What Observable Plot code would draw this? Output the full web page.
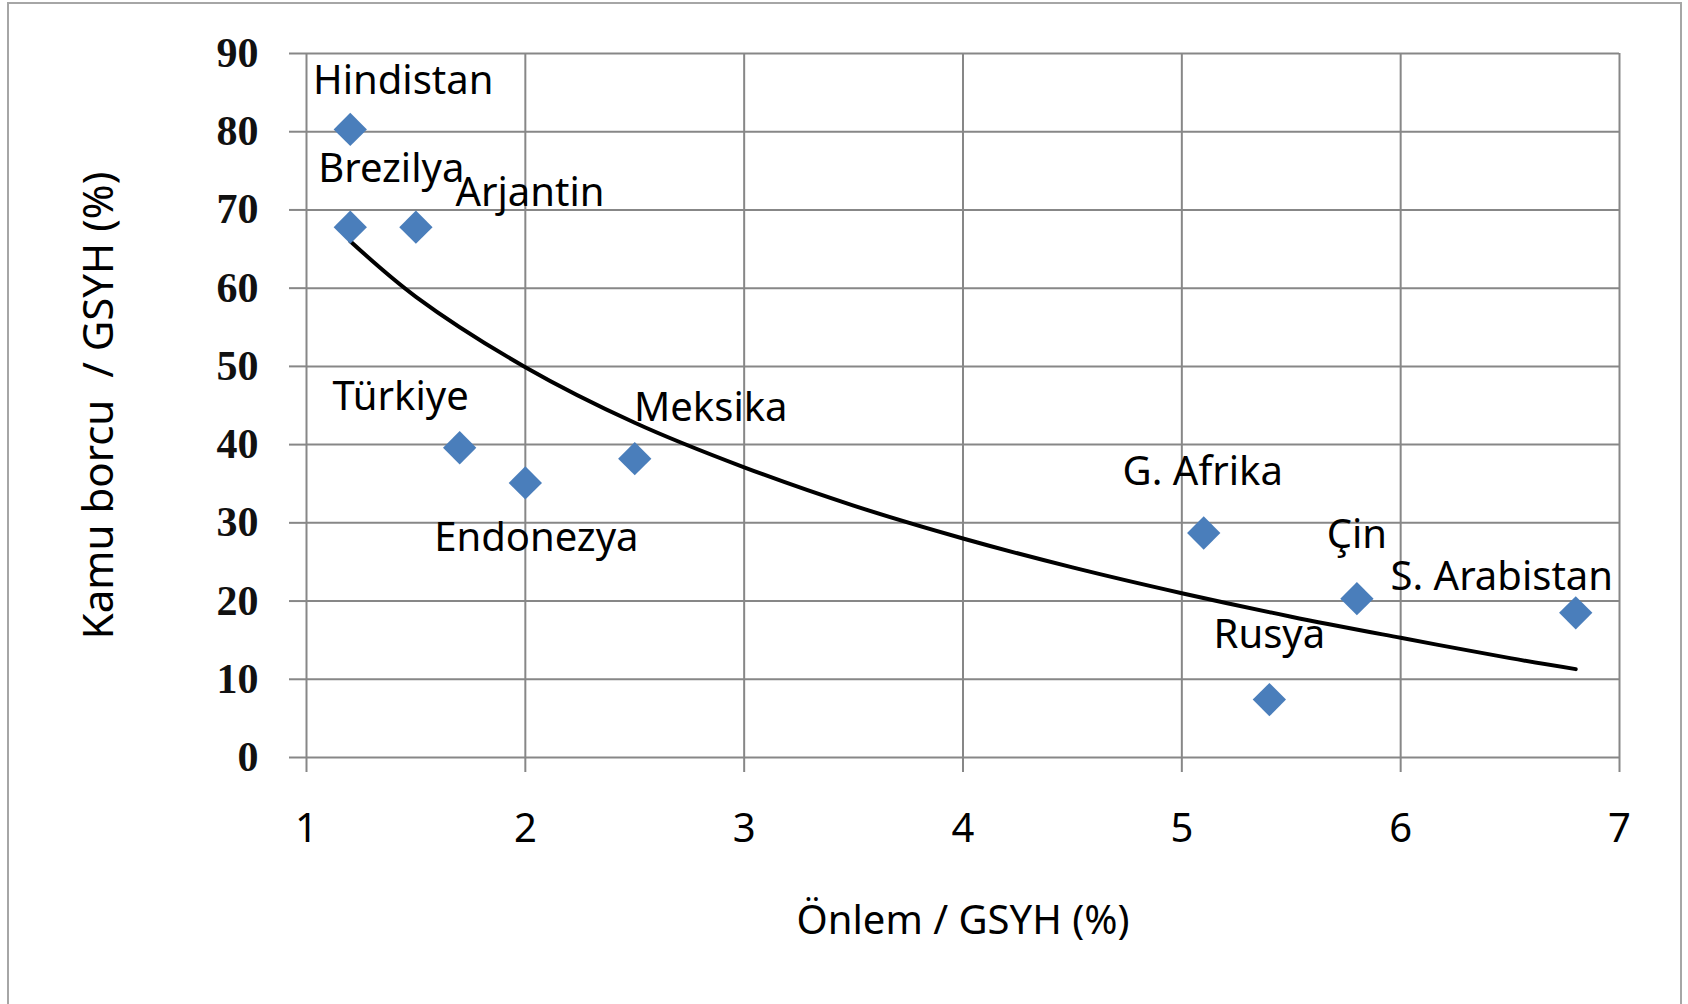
<!DOCTYPE html>
<html>
<head>
<meta charset="utf-8">
<script src="https://cdn.jsdelivr.net/npm/d3@7"></script>
<script src="https://cdn.jsdelivr.net/npm/@observablehq/plot@0.6"></script>
<style>
  html, body { margin: 0; padding: 0; background: #ffffff; }
  #wrap { position: relative; width: 1688px; height: 1004px; overflow: hidden; }
  #border { position: absolute; left: 7px; top: 2px; width: 1675px; height: 1010px; border: 2px solid #a6a6a6; box-sizing: border-box; pointer-events: none; }
</style>
</head>
<body>
<div id="wrap"><div id="border"></div></div>
<script>
// ---- data ----
const countries = ["Hindistan", "Brezilya", "Arjantin", "Türkiye", "Endonezya", "Meksika", "G. Afrika", "Rusya", "Çin", "S. Arabistan"];
const onlem = [1.2, 1.2, 1.5, 1.7, 2.0, 2.5, 5.1, 5.4, 5.8, 6.8];          // Önlem / GSYH (%)
const borc  = [80.3, 67.8, 67.8, 39.6, 35.1, 38.2, 28.7, 7.4, 20.3, 18.5]; // Kamu borcu / GSYH (%)

// trend line
const trendX = [1.2, 1.5, 2.0, 2.5, 3.0, 3.5, 4.0, 4.5, 5.0, 5.5, 6.0, 6.5, 6.8];
const trendY = [66.0, 58.9, 49.9, 42.8, 37.1, 32.2, 28.0, 24.3, 21.0, 18.0, 15.3, 12.7, 11.3];

const xTicks = [1, 2, 3, 4, 5, 6, 7];
const yTicks = [0, 10, 20, 30, 40, 50, 60, 70, 80, 90];

const xTitle = "Önlem / GSYH (%)";
const yTitle = "Kamu borcu  / GSYH (%)";

// label placement relative to each point (pixels), kept apart from the data
const labelOffset = {
  "Hindistan": [53, -48],
  "Brezilya": [41, -58],
  "Arjantin": [114, -34],
  "Türkiye": [-59, -51],
  "Endonezya": [11, 55],
  "Meksika": [76, -51],
  "G. Afrika": [-1, -61],
  "Rusya": [0, -64],
  "Çin": [0, -64],
  "S. Arabistan": [-74, -36]
};

const points = countries.map((c, i) => ({name: c, x: onlem[i], y: borc[i]}));
const trend = trendX.map((x, i) => ({x, y: trendY[i]}));

const labelFont = "'Noto Sans', 'Open Sans', sans-serif";
const gridColor = "#878787";

const labelMarks = points.map(p => Plot.text([p], {
  x: "x", y: "y", text: "name",
  dx: labelOffset[p.name][0], dy: labelOffset[p.name][1],
  fontSize: 40, fontFamily: labelFont, fill: "#000", textAnchor: "middle", lineAnchor: "middle"
}));

const chart = Plot.plot({
  width: 1688,
  height: 1004,
  marginLeft: 306,
  marginRight: 69,
  marginTop: 53,
  marginBottom: 247,
  style: {background: "transparent", fontFamily: labelFont},
  x: {domain: [1, 7], ticks: xTicks},
  y: {domain: [0, 90], ticks: yTicks},
  marks: [
    Plot.gridX(xTicks, {stroke: gridColor, strokeOpacity: 1, strokeWidth: 2}),
    Plot.gridY(yTicks, {stroke: gridColor, strokeOpacity: 1, strokeWidth: 2}),
    Plot.axisX(xTicks, {
      tickSize: 15, tickPadding: 41, stroke: gridColor, strokeWidth: 2,
      fontSize: 40, fontFamily: labelFont, fill: "#000", label: null,
      tickFormat: d => String(d)
    }),
    Plot.axisY(yTicks, {
      tickSize: 17, tickPadding: 31, stroke: gridColor, strokeWidth: 2,
      fontSize: 42, fontFamily: "'Liberation Serif', 'DejaVu Serif', serif", fontWeight: "bold",
      fill: "#111", label: null, tickFormat: d => String(d)
    }),
    Plot.line(trend, {x: "x", y: "y", stroke: "#000", strokeWidth: 4, curve: "catmull-rom"}),
    Plot.dot(points, {x: "x", y: "y", symbol: "diamond2", r: 15, fill: "#4a7ebb", stroke: "none"}),
    ...labelMarks,
    Plot.text([xTitle], {frameAnchor: "bottom", dy: 164, text: d => d, fontSize: 40, fontFamily: labelFont, fill: "#000", lineAnchor: "middle"}),
    Plot.text([yTitle], {frameAnchor: "left", dx: -207, text: d => d, rotate: -90, fontSize: 42, fontFamily: labelFont, fill: "#000", lineAnchor: "middle", textAnchor: "middle"})
  ]
});

chart.style.position = "absolute";
chart.style.left = "0px";
chart.style.top = "0px";
document.getElementById("wrap").appendChild(chart);
</script>
</body>
</html>
